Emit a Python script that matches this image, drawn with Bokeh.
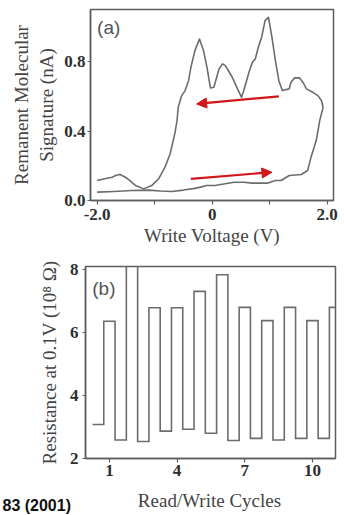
from bokeh.plotting import figure
from bokeh.models import FixedTicker, Label, Arrow, NormalHead, Range1d
from bokeh.core.properties import value
from bokeh.layouts import column, row
from bokeh.embed import file_html
from bokeh.resources import INLINE

# ---------- panel (a) data ----------
reverse_v = [1.93, 1.90, 1.84, 1.75, 1.64, 1.58, 1.52, 1.43, 1.37, 1.34, 1.22, 1.16, 1.10, 1.04,
             0.98, 0.92, 0.86, 0.80, 0.75, 0.70, 0.64, 0.55, 0.51, 0.44, 0.35, 0.23, 0.18, 0.12,
             0.03, -0.03, -0.09, -0.15, -0.22, -0.30, -0.37, -0.41, -0.47, -0.53, -0.59, -0.61,
             -0.65, -0.73, -0.82, -0.93, -1.05, -1.19, -1.33, -1.45, -1.51, -1.60, -1.67, -1.74,
             -1.87, -2.00]
reverse_i = [0.537, 0.576, 0.604, 0.623, 0.643, 0.680, 0.706, 0.706, 0.680, 0.643, 0.633, 0.690,
             0.806, 0.940, 1.055, 1.036, 0.940, 0.880, 0.815, 0.796, 0.738, 0.633, 0.595, 0.643,
             0.710, 0.777, 0.787, 0.758, 0.652, 0.648, 0.767, 0.863, 0.930, 0.863, 0.767, 0.690,
             0.633, 0.604, 0.537, 0.460, 0.384, 0.269, 0.192, 0.125, 0.086, 0.067, 0.086, 0.120,
             0.134, 0.150, 0.145, 0.134, 0.125, 0.115]
forward_v = [-2.00, -1.70, -1.40, -1.10, -0.90, -0.70, -0.50, -0.30, -0.20, -0.10, 0.05, 0.20,
             0.38, 0.55, 0.70, 0.96, 1.10, 1.20, 1.34, 1.55, 1.66, 1.72, 1.81, 1.87, 1.93]
forward_i = [0.048, 0.052, 0.058, 0.060, 0.055, 0.052, 0.060, 0.070, 0.077, 0.086, 0.086, 0.095,
             0.105, 0.105, 0.100, 0.100, 0.115, 0.115, 0.144, 0.150, 0.173, 0.250, 0.345, 0.460,
             0.537]
arrow_upper = [(1.16, 0.600), (-0.27, 0.556)]
arrow_lower = [(-0.37, 0.125), (1.04, 0.163)]
xa_ticks = [-2, -1, 0, 1, 2]
xa_labels = {-2: "-2.0", -1: "", 0: "0", 1: "", 2: "2.0"}
ya_ticks = [0.0, 0.4, 0.8]
ya_labels = {0: "0.0", 0.4: "0.4", 0.8: "0.8"}

# ---------- panel (b) data ----------
state_pos = [0.5, 1, 1.5, 2, 2.5, 3, 3.5, 4, 4.5, 5, 5.5, 6, 6.5, 7, 7.5, 8, 8.5, 9, 9.5, 10, 10.5, 11]
state_res = [3.08, 6.36, 2.59, 9.0, 2.54, 6.79, 2.87, 6.79, 2.93, 7.31, 2.80, 7.84, 2.57, 6.80,
             2.64, 6.38, 2.59, 6.80, 2.64, 6.38, 2.64, 6.80]
xb_ticks = [1, 4, 7, 10]
yb_ticks = [2, 4, 6, 8]

# ---------- caption texts ----------
xb_title = "Read/Write Cycles"
citation = "83 (2001)"

LINE = "#6c6c6c"
FRAME = "#5e5e5e"
TXT = "#444444"
TICK = "#2e2e2e"
RED = "#d2161a"
SERIF = "Liberation Serif"


def style(p, label_size, tick_size):
    p.outline_line_color = FRAME
    p.outline_line_width = 1.5
    p.grid.visible = False
    p.background_fill_color = "white"
    p.border_fill_color = "white"
    for ax in (p.xaxis[0], p.yaxis[0]):
        ax.axis_line_color = FRAME
        ax.axis_line_width = 1.5
        ax.major_tick_line_color = FRAME
        ax.major_tick_line_width = 1.2
        ax.major_tick_in = 0
        ax.major_tick_out = 4
        ax.minor_tick_line_color = None
        ax.major_label_text_font = SERIF
        ax.major_label_text_font_style = "bold"
        ax.major_label_text_font_size = tick_size
        ax.major_label_text_color = TICK
        ax.axis_label_text_font = SERIF
        ax.axis_label_text_font_style = "normal"
        ax.axis_label_text_font_size = label_size
        ax.axis_label_text_color = TXT


# ---------- top figure ----------
pa = figure(output_backend="svg", toolbar_location=None, tools="",
            frame_width=243, frame_height=191,
            min_border_left=90, min_border_right=11, min_border_top=9, min_border_bottom=58,
            x_range=Range1d(-2.115, 2.11), y_range=Range1d(0.0, 1.10))
style(pa, "19px", "17px")
pa.xaxis.ticker = FixedTicker(ticks=xa_ticks)
pa.xaxis.major_label_overrides = xa_labels
pa.yaxis.ticker = FixedTicker(ticks=ya_ticks)
pa.yaxis.major_label_overrides = ya_labels
pa.xaxis.axis_label = "Write Voltage (V)"
pa.yaxis.axis_label = "Remanent Molecular\nSignature (nA)"
pa.xaxis.major_label_standoff = 4
pa.xaxis.axis_label_standoff = 2
pa.yaxis.major_label_standoff = 2
pa.yaxis.major_tick_out = 3
pa.yaxis.axis_label_standoff = 4

pa.line(reverse_v, reverse_i, line_color=LINE, line_width=1.6, line_join="round")
pa.line(forward_v, forward_i, line_color=LINE, line_width=1.6, line_join="round")
for (x0, y0), (x1, y1) in (arrow_upper, arrow_lower):
    pa.add_layout(Arrow(x_start=x0, y_start=y0, x_end=x1, y_end=y1,
                        line_color=RED, line_width=2.2,
                        end=NormalHead(size=10, fill_color=RED, line_color=RED)))
pa.add_layout(Label(x=-2.0, y=1.055, text="(a)", text_font="Liberation Sans",
                    text_font_size="19px", text_color="#555555", text_baseline="top"))

# ---------- bottom figure ----------
step_x, step_y = [], []
for c, r in zip(state_pos, state_res):
    step_x += [c - 0.25, c + 0.25]
    step_y += [r, r]

pb = figure(output_backend="svg", toolbar_location=None, tools="",
            frame_width=250, frame_height=192,
            min_border_left=85, min_border_right=9, min_border_top=8, min_border_bottom=27,
            x_range=Range1d(-0.06, 11.02), y_range=Range1d(2.0, 8.1))
style(pb, "19px", "17px")
pb.xaxis.ticker = FixedTicker(ticks=xb_ticks)
pb.yaxis.ticker = FixedTicker(ticks=yb_ticks)
pb.yaxis.axis_label = "Resistance at 0.1V (10\u2078 \u03a9)"
pb.xaxis.major_label_standoff = 2
pb.yaxis.major_tick_out = 3
pb.yaxis.major_label_standoff = 4
pb.yaxis.axis_label_standoff = 7

pb.line(step_x, step_y, line_color=LINE, line_width=1.6, line_join="miter")
pb.add_layout(Label(x=0.24, y=7.75, text="(b)", text_font="Liberation Sans",
                    text_font_size="19px", text_color="#555555", text_baseline="top"))

# ---------- caption strip (x-axis title of panel b and citation) ----------
pc = figure(output_backend="svg", toolbar_location=None, tools="",
            width=344, height=30, min_border=0,
            x_range=Range1d(0, 344), y_range=Range1d(0, 30),
            x_axis_type=None, y_axis_type=None)
pc.outline_line_color = None
pc.grid.visible = False
pc.text(x=[209], y=[15], text=[xb_title], text_font=value(SERIF), text_font_size="19px",
        text_color=TXT, text_align="center", text_baseline="middle")
pc.text(x=[2], y=[10], text=[citation], text_font=value("Liberation Sans"),
        text_font_style="bold", text_font_size="16px", text_color="#111111",
        text_align="left", text_baseline="middle")

layout = column(row(pa), row(pb), row(pc), spacing=0)
open("out.html", "w").write(file_html(layout, INLINE))
